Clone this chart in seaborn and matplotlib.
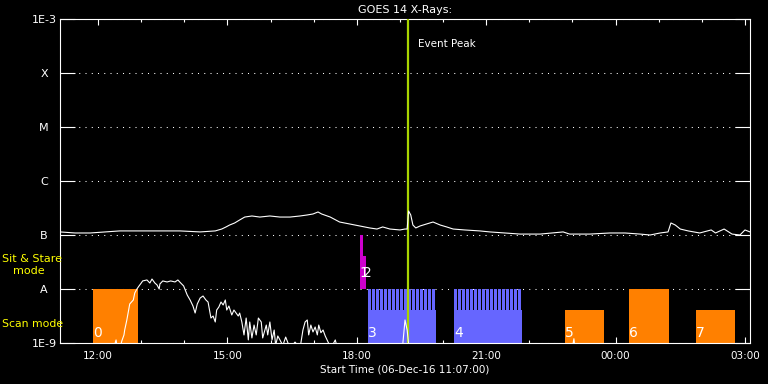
import numpy as np
import pandas as pd
import seaborn as sns
import matplotlib.pyplot as plt
import matplotlib.dates as mdates
from matplotlib.ticker import NullLocator

# ---------------- data ----------------
start = pd.Timestamp("2016-12-06 11:07:00")
span_hours = 16

# GOES 1-8 A channel: minutes after start, flux (W/m^2)
long_min = [0, 21, 42, 63, 83, 111, 139, 167, 195, 216, 225, 231, 236, 243, 250,
            257, 267, 278, 292, 306, 320, 334, 344, 352, 359, 364, 376, 389, 403, 417,
            431, 441, 449, 459, 473, 480, 483, 485, 488, 491, 495, 501, 510, 519, 529,
            538, 547, 563, 584, 598, 619, 640, 668, 700, 709, 737, 765, 786, 807, 821,
            835, 846, 850, 856, 863, 874, 890, 906, 912, 924, 935, 946, 953, 960]
long_flux = [1.14e-7, 1.09e-7, 1.09e-7, 1.14e-7, 1.19e-7, 1.19e-7, 1.19e-7, 1.19e-7, 1.14e-7, 1.19e-7,
             1.29e-7, 1.41e-7, 1.53e-7, 1.67e-7, 1.90e-7, 2.15e-7, 2.25e-7, 2.15e-7, 2.25e-7, 2.15e-7,
             2.15e-7, 2.25e-7, 2.35e-7, 2.45e-7, 2.67e-7, 2.45e-7, 2.15e-7, 1.74e-7, 1.60e-7, 1.47e-7,
             1.35e-7, 1.29e-7, 1.41e-7, 1.29e-7, 1.24e-7, 1.29e-7, 1.29e-7, 2.78e-7, 2.35e-7, 1.53e-7,
             1.35e-7, 1.47e-7, 1.60e-7, 1.74e-7, 1.53e-7, 1.41e-7, 1.29e-7, 1.24e-7, 1.19e-7, 1.14e-7,
             1.09e-7, 1.04e-7, 1.04e-7, 1.14e-7, 1.04e-7, 1.04e-7, 1.09e-7, 1.09e-7, 1.04e-7, 1.00e-7,
             1.09e-7, 1.14e-7, 1.67e-7, 1.53e-7, 1.29e-7, 1.19e-7, 1.09e-7, 1.24e-7, 1.09e-7, 1.29e-7,
             1.04e-7, 1.00e-7, 1.24e-7, 1.14e-7]

# GOES 0.5-4 A channel
short_min = [0, 70, 78, 81, 86, 89, 90, 93, 95, 97, 102, 104, 107, 110, 113, 115, 121, 125, 128, 132,
             135, 138, 139, 143, 149, 154, 160, 164, 168, 172, 177, 181, 185, 188, 191, 195, 199, 203, 206, 210,
             213, 216, 218, 221, 224, 227, 230, 232, 235, 239, 242, 245, 248, 250, 253, 256, 259, 262, 264, 267,
             270, 273, 276, 280, 282, 287, 289, 292, 295, 298, 300, 303, 306, 310, 314, 320, 327, 334, 338, 341,
             344, 346, 349, 352, 355, 358, 360, 363, 366, 369, 373, 377, 383, 387, 396, 476, 480, 483, 486, 712,
             715, 717, 960]
short_flux = [5e-10, 5e-10, 1.14e-9, 6e-10, 1.09e-9, 1.41e-9, 1.74e-9, 2.67e-9, 3.75e-9, 5.28e-9,
              6.26e-9, 8.43e-9, 1.0e-8, 1.14e-8, 1.29e-8, 1.41e-8, 1.47e-8, 1.29e-8, 1.53e-8, 1.29e-8,
              1.19e-8, 1.0e-8, 1.24e-8, 1.41e-8, 1.35e-8, 1.41e-8, 1.35e-8, 1.47e-8, 1.29e-8, 1.14e-8,
              7.74e-9, 6.26e-9, 4.84e-9, 3.59e-9, 5.28e-9, 6.81e-9, 7.42e-9, 6.26e-9, 5.74e-9, 2.90e-9,
              3.16e-9, 2.45e-9, 4.08e-9, 4.64e-9, 5.74e-9, 5.06e-9, 6.26e-9, 4.08e-9, 4.84e-9, 3.30e-9,
              4.08e-9, 3.59e-9, 3.16e-9, 3.59e-9, 2.45e-9, 1.41e-9, 2.90e-9, 1.14e-9, 2.45e-9, 1.24e-9,
              2.15e-9, 1.41e-9, 2.90e-9, 2.45e-9, 1.24e-9, 2.15e-9, 1.41e-9, 2.45e-9, 1.14e-9, 1.74e-9,
              9e-10, 1.35e-9, 1.14e-9, 9e-10, 1.29e-9, 8e-10, 1.04e-9, 8e-10, 1.74e-9, 2.45e-9,
              2.67e-9, 1.41e-9, 2.15e-9, 1.6e-9, 1.98e-9, 1.41e-9, 2.15e-9, 1.55e-9, 1.74e-9, 1.35e-9,
              1.04e-9, 8e-10, 1.14e-9, 7e-10, 7e-10, 7e-10, 2.67e-9, 1.74e-9, 7e-10, 7e-10,
              1.2e-9, 7e-10, 7e-10]

# scan mode observations
scan_labels = ["0", "3", "4", "5", "6", "7"]
scan_start = ["2016-12-06 11:53", "2016-12-06 18:15", "2016-12-06 20:15",
              "2016-12-06 22:50", "2016-12-07 00:19", "2016-12-07 01:52"]
scan_end = ["2016-12-06 12:55", "2016-12-06 19:50", "2016-12-06 21:50",
            "2016-12-06 23:44", "2016-12-07 01:14", "2016-12-07 02:46"]
scan_top = [1e-8, 4.1e-9, 4.1e-9, 4.1e-9, 1e-8, 4.1e-9]
scan_steps = [0, 17, 17, 0, 0, 0]
scan_colors = ["#ff8000", "#6666ff", "#6666ff", "#ff8000", "#ff8000", "#ff8000"]

# sit & stare observations
sit_labels = ["1", "2"]
sit_start = ["2016-12-06 18:04", "2016-12-06 18:09"]
sit_end = ["2016-12-06 18:09", "2016-12-06 18:13"]
sit_top = [1e-7, 4.1e-8]

peak_time = pd.Timestamp("2016-12-06 19:11")

levels = [1e-9, 1e-8, 1e-7, 1e-6, 1e-5, 1e-4, 1e-3]
level_labels = ["1E-9", "A", "B", "C", "M", "X", "1E-3"]

# ---------------- style ----------------
sns.set_style("ticks", rc={"axes.facecolor": "black", "figure.facecolor": "black",
                           "axes.edgecolor": "white", "text.color": "white"})
plt.rcParams["font.family"] = ["DejaVu Sans"]

fig, ax = plt.subplots(figsize=(7.68, 3.84), dpi=100)
fig.subplots_adjust(left=60 / 768, right=750 / 768, bottom=41 / 384, top=365 / 384)

goes = pd.concat([
    pd.DataFrame({"time": start + pd.to_timedelta(long_min, unit="min"), "flux": long_flux, "channel": "long"}),
    pd.DataFrame({"time": start + pd.to_timedelta(short_min, unit="min"), "flux": short_flux, "channel": "short"}),
], ignore_index=True)

sns.lineplot(data=goes, x="time", y="flux", units="channel", estimator=None, sort=False,
             color="white", linewidth=0.8, ax=ax, zorder=5)

ax.set_yscale("log")
ax.set_ylim(1e-9, 1e-3)
ax.set_xlim(start, start + pd.Timedelta(hours=span_hours))

# scan bars
x0 = mdates.date2num(pd.to_datetime(scan_start))
x1 = mdates.date2num(pd.to_datetime(scan_end))
ax.bar(x0, np.array(scan_top) - 1e-9, width=x1 - x0, bottom=1e-9, align="edge",
       color=scan_colors, linewidth=0, zorder=2)
for a, b, top, n, c in zip(x0, x1, scan_top, scan_steps, scan_colors):
    if n == 0:
        continue
    edges = np.linspace(a, b, n + 1)[:-1]
    step = (b - a) / n
    ax.bar(edges, 1e-8 - top, width=step * 0.72, bottom=top, align="edge",
           color=c, linewidth=0, zorder=2)
for a, lab in zip(x0, scan_labels):
    ax.text(a, 1.29e-9, lab, color="white", fontsize=10, ha="left", va="baseline", zorder=7)

# sit & stare bars
s0 = mdates.date2num(pd.to_datetime(sit_start))
s1 = mdates.date2num(pd.to_datetime(sit_end))
ax.bar(s0, np.array(sit_top) - 1e-8, width=s1 - s0, bottom=1e-8, align="edge",
       color="#cc00cc", linewidth=0, zorder=2)
for a, lab in zip(s0, sit_labels):
    ax.text(a, 1.67e-8, lab, color="white", fontsize=10, ha="left", va="baseline", zorder=7)

# event peak
ax.axvline(peak_time, color="#a8d400", linewidth=1.6, zorder=4)
ax.annotate("Event Peak", xy=(peak_time, 3.0e-4), xytext=(7, 0), textcoords="offset points",
            color="white", fontsize=7.5, va="baseline")

# axes / ticks
ax.set_yticks(levels, labels=level_labels)
ax.yaxis.set_minor_locator(NullLocator())
ax.tick_params(axis="y", direction="in", length=10.8, width=0.8, colors="white",
               left=True, right=True, labelsize=8, pad=11.5)
for lab in ax.get_yticklabels():
    lab.set_horizontalalignment("center")
ax.yaxis.grid(True, color="white", linestyle=(0, (1, 5)), linewidth=0.75)
ax.set_axisbelow(True)

ax.xaxis.set_major_locator(mdates.HourLocator(byhour=[0, 3, 6, 9, 12, 15, 18, 21]))
ax.xaxis.set_minor_locator(mdates.HourLocator())
ax.xaxis.set_major_formatter(mdates.DateFormatter("%H:%M"))
ax.tick_params(axis="x", which="major", direction="in", length=4.5, width=0.8, colors="white",
               top=True, bottom=True, labelsize=7.5, pad=6)
ax.tick_params(axis="x", which="minor", direction="in", length=2.3, width=0.8, colors="white",
               top=True, bottom=True)

for sp in ax.spines.values():
    sp.set_color("white")
    sp.set_linewidth(0.8)

ax.set_title("GOES 14 X-Rays:", color="white", fontsize=8, pad=4)
ax.set_xlabel("Start Time (06-Dec-16 11:07:00)", color="white", fontsize=7.5, labelpad=2)
ax.set_ylabel("")

fig.text(2 / 768, 1 - 259 / 384, "Sit & Stare", color="yellow", fontsize=8, ha="left", va="center")
fig.text(13 / 768, 1 - 271 / 384, "mode", color="yellow", fontsize=8, ha="left", va="center")
fig.text(2 / 768, 1 - 324 / 384, "Scan mode", color="yellow", fontsize=7.8, ha="left", va="center")

fig.savefig("out.png", dpi=100, facecolor="black")
